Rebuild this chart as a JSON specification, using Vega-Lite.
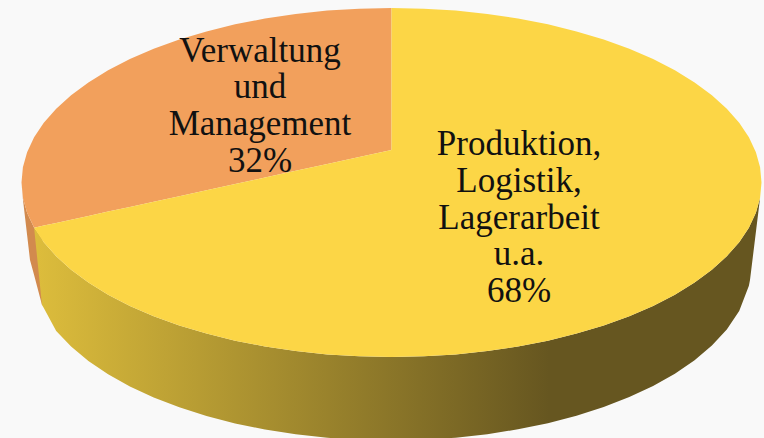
{
"$schema":"https://vega.github.io/schema/vega-lite/v6.json",
"width":764,"height":438,"padding":0,"autosize":{"type":"none"},
"background":"#f9f9f9",
"config":{"view":{"stroke":null}},
"datasets":{
"orangeSide":[
{"x":21.5,"y":182.5,"y2":182.5},{"x":22.9,"y":197.7,"y2":199},{"x":27.1,"y":212.8,"y2":235},{"x":30,"y":219,"y2":260},{"x":34.1,"y":227.7,"y2":275},{"x":42,"y":239,"y2":305}],
"yellowSide":[
{"x":34.1,"y":227.7,"y2":227.7},{"x":42,"y":239,"y2":305},{"x":43.8,"y":242.2,"y2":308},{"x":56.2,"y":256.2,"y2":331},{"x":71.1,"y":269.8,"y2":346.6},{"x":88.4,"y":282.6,"y2":361},{"x":108.1,"y":294.7,"y2":374.3},{"x":129.9,"y":305.9,"y2":386.4},{"x":153.7,"y":316.2,"y2":397.5},{"x":179.3,"y":325.5,"y2":407.3},{"x":206.5,"y":333.6,"y2":416},{"x":235.1,"y":340.7,"y2":423.4},{"x":265,"y":346.5,"y2":429.5},{"x":295.7,"y":351.1,"y2":434.3},{"x":327.3,"y":354.4,"y2":437.8},{"x":359.2,"y":356.3,"y2":439.8},{"x":391.5,"y":357,"y2":440.5},{"x":423.8,"y":356.3,"y2":439.8},{"x":455.7,"y":354.4,"y2":437.7},{"x":487.3,"y":351.1,"y2":434.2},{"x":518,"y":346.5,"y2":429.3},{"x":547.9,"y":340.7,"y2":423.2},{"x":576.5,"y":333.6,"y2":415.7},{"x":603.7,"y":325.5,"y2":407},{"x":629.3,"y":316.2,"y2":397},{"x":653.1,"y":305.9,"y2":385.9},{"x":674.9,"y":294.7,"y2":373.7},{"x":694.6,"y":282.6,"y2":360.2},{"x":711.9,"y":269.8,"y2":345.6},{"x":726.8,"y":256.2,"y2":329.5},{"x":739.2,"y":242.2,"y2":311},{"x":748.9,"y":227.7,"y2":285.7},{"x":750,"y":225.3,"y2":280},{"x":755.9,"y":212.8,"y2":232},{"x":760.1,"y":197.7,"y2":197.7}],
"orangeTop":[
{"x":21.5,"y":182.5,"y2":182.5},{"x":22.9,"y":167.3,"y2":197.7},{"x":27.1,"y":152.2,"y2":212.8},{"x":34.1,"y":137.3,"y2":227.7},{"x":43.8,"y":122.8,"y2":225.6},{"x":56.2,"y":108.8,"y2":222.9},{"x":71.1,"y":95.2,"y2":219.7},{"x":88.4,"y":82.4,"y2":215.9},{"x":108.1,"y":70.3,"y2":211.6},{"x":129.9,"y":59.1,"y2":206.9},{"x":153.7,"y":48.8,"y2":201.7},{"x":179.3,"y":39.5,"y2":196.2},{"x":206.5,"y":31.4,"y2":190.2},{"x":235.1,"y":24.3,"y2":184},{"x":265,"y":18.5,"y2":177.5},{"x":295.7,"y":13.9,"y2":170.8},{"x":327.3,"y":10.6,"y2":164},{"x":359.2,"y":8.7,"y2":157},{"x":391.5,"y":8,"y2":150}],
"yellowTop":[
{"x":34.1,"y":227.7,"y2":227.7},{"x":43.8,"y":225.6,"y2":242.2},{"x":56.2,"y":222.9,"y2":256.2},{"x":71.1,"y":219.7,"y2":269.8},{"x":88.4,"y":215.9,"y2":282.6},{"x":108.1,"y":211.6,"y2":294.7},{"x":129.9,"y":206.9,"y2":305.9},{"x":153.7,"y":201.7,"y2":316.2},{"x":179.3,"y":196.2,"y2":325.5},{"x":206.5,"y":190.2,"y2":333.6},{"x":235.1,"y":184,"y2":340.7},{"x":265,"y":177.5,"y2":346.5},{"x":295.7,"y":170.8,"y2":351.1},{"x":327.3,"y":164,"y2":354.4},{"x":359.2,"y":157,"y2":356.3},{"x":391.5,"y":150,"y2":357},{"x":391.5,"y":8,"y2":357},{"x":423.8,"y":8.7,"y2":356.3},{"x":455.7,"y":10.6,"y2":354.4},{"x":487.3,"y":13.9,"y2":351.1},{"x":518,"y":18.5,"y2":346.5},{"x":547.9,"y":24.3,"y2":340.7},{"x":576.5,"y":31.4,"y2":333.6},{"x":603.7,"y":39.5,"y2":325.5},{"x":629.3,"y":48.8,"y2":316.2},{"x":653.1,"y":59.1,"y2":305.9},{"x":674.9,"y":70.3,"y2":294.7},{"x":694.6,"y":82.4,"y2":282.6},{"x":711.9,"y":95.2,"y2":269.8},{"x":726.8,"y":108.8,"y2":256.2},{"x":739.2,"y":122.8,"y2":242.2},{"x":748.9,"y":137.3,"y2":227.7},{"x":755.9,"y":152.2,"y2":212.8},{"x":760.1,"y":167.3,"y2":197.7},{"x":761.5,"y":182.5,"y2":182.5}],
"labels":[
{"t":"Verwaltung","x":260,"y":62},{"t":"und","x":260,"y":98},{"t":"Management","x":260,"y":135},{"t":"32%","x":260,"y":172},
{"t":"Produktion,","x":519,"y":155},{"t":"Logistik,","x":519,"y":192},{"t":"Lagerarbeit","x":519,"y":229},{"t":"u.a.","x":519,"y":265},{"t":"68%","x":519,"y":302}]
},
"layer":[
{"data":{"name":"orangeSide"},"mark":{"type":"area","color":"#d28a4e"},"encoding":{"x":{"field":"x","type":"quantitative","axis":null,"scale":{"domain":[0,764],"nice":false,"zero":false}},"y":{"field":"y","type":"quantitative","axis":null,"scale":{"domain":[0,438],"reverse":true,"nice":false,"zero":false}},"y2":{"field":"y2"}}},
{"data":{"name":"yellowSide"},"mark":{"type":"area","color":{"gradient":"linear","x1":0,"y1":0,"x2":1,"y2":0,"stops":[{"offset":0,"color":"#ddbd3c"},{"offset":0.71,"color":"#665620"},{"offset":1,"color":"#665620"}]}},"encoding":{"x":{"field":"x","type":"quantitative","axis":null},"y":{"field":"y","type":"quantitative","axis":null},"y2":{"field":"y2"}}},
{"data":{"name":"orangeTop"},"mark":{"type":"area","color":"#f2a05c"},"encoding":{"x":{"field":"x","type":"quantitative","axis":null},"y":{"field":"y","type":"quantitative","axis":null},"y2":{"field":"y2"}}},
{"data":{"name":"yellowTop"},"mark":{"type":"area","color":"#fcd646"},"encoding":{"x":{"field":"x","type":"quantitative","axis":null},"y":{"field":"y","type":"quantitative","axis":null},"y2":{"field":"y2"}}},
{"data":{"name":"labels"},"mark":{"type":"text","font":"Liberation Serif","fontSize":35,"color":"#111111","align":"center","baseline":"alphabetic"},"encoding":{"x":{"field":"x","type":"quantitative","axis":null},"y":{"field":"y","type":"quantitative","axis":null},"text":{"field":"t"}}}
]
}
